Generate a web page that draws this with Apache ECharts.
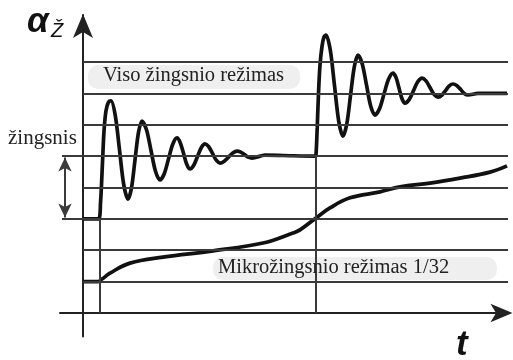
<!DOCTYPE html>
<html><head><meta charset="utf-8">
<script src="https://cdn.jsdelivr.net/npm/echarts@6/dist/echarts.min.js"></script>
<style>html,body{margin:0;padding:0;background:#fff}#c{width:513px;height:360px}</style>
</head><body><div id="c"></div>
<script>
// horizontal reference levels (in step units)
const gridLevels = [1, 2, 3, 4, 5, 6, 7, 8];
const extendedLevels = [3, 5];
// step instants and the level reached before each step
const stepTimes = [1.7, 23.3];
const stepBaseLevels = [3, 5];
// full-step response [t, angle]
const fullStepCurve = [
  [0,3],[1.55,3],[1.75,3.5],[1.95,4.8],[2.1,5.8],[2.3,6.45],[2.55,6.72],[2.8,6.76],
  [3.225,6.3],[3.65,5.2],[4.075,4.09],[4.5,3.63],
  [4.85,3.99],[5.2,4.88],[5.55,5.76],[5.9,6.12],
  [6.35,5.84],[6.8,5.18],[7.25,4.52],[7.7,4.24],
  [8.125,4.44],[8.55,4.91],[8.975,5.38],[9.4,5.58],
  [9.725,5.43],[10.05,5.09],[10.375,4.74],[10.7,4.59],
  [11.075,4.71],[11.45,4.99],[11.825,5.27],[12.2,5.39],
  [12.575,5.3],[12.95,5.09],[13.325,4.87],[13.7,4.78],
  [14.125,4.84],[14.55,4.97],[14.975,5.1],[15.4,5.16],
  [15.775,5.13],[16.15,5.05],[16.525,4.97],[16.9,4.94],
  [18.2,5.03],[20,5.02],[23.2,5],
  [23.3,5.05],[23.42,5.9],[23.55,7.0],[23.7,7.9],[23.9,8.5],[24.1,8.8],[24.3,8.86],
  [24.725,8.39],[25.15,7.25],[25.575,6.11],[26,5.64],
  [26.375,6.02],[26.75,6.93],[27.125,7.84],[27.5,8.22],
  [27.925,7.94],[28.35,7.27],[28.775,6.59],[29.2,6.31],
  [29.65,6.51],[30.1,6.98],[30.55,7.45],[31,7.65],
  [31.3,7.51],[31.6,7.17],[31.9,6.83],[32.2,6.69],
  [32.625,6.81],[33.05,7.09],[33.475,7.37],[33.9,7.49],
  [34.3,7.4],[34.7,7.19],[35.1,6.97],[35.5,6.88],
  [35.875,6.94],[36.25,7.09],[36.625,7.24],[37,7.3],
  [37.375,7.25],[37.75,7.13],[38.125,7.0],[38.5,6.95],
  [39.5,7.0],[42.4,7.0]
];
// 1/32 microstep response [t, angle]
const microStepCurve = [
  [0,1],[1.5,1],[1.9,1.08],[2.7,1.27],[4.7,1.59],[8,1.78],[13,1.98],[18,2.23],[21,2.55],
  [21.7,2.65],[23.3,3.03],[24.7,3.35],[26.7,3.67],[29.7,3.86],[31.7,4.02],[34.7,4.14],
  [37.7,4.3],[40.7,4.49],[42.4,4.69]
];
// step-size marker: from level to level
const stepMarker = [3.04, 4.96];
const labelFull = 'Viso žingsnio režimas';
const labelMicro = 'Mikrožingsnio režimas 1/32';
const labelStep = 'žingsnis';

const X_MIN = -2.3, X_MAX = 42.6, LINE_END = 42.5, MARK_X = -1.8, EXT_START = -2.1;

const chart = echarts.init(document.getElementById('c'), null, {renderer: 'canvas'});

const gridLineData = gridLevels.map(l => [
  {coord: [extendedLevels.includes(l) ? EXT_START : 0, l]},
  {coord: [LINE_END, l]}
]);
const vLineData = stepTimes.map((t, i) => [
  {coord: [t, 0]}, {coord: [t, stepBaseLevels[i]]}
]);

const option = {
  animation: false,
  grid: {left: 60, right: 4, top: 15, bottom: 23.5, containLabel: false},
  xAxis: {
    type: 'value', min: X_MIN, max: X_MAX,
    axisLine: {show: true, onZero: true, symbol: ['none', 'arrow'], symbolSize: [14, 22], symbolOffset: [0, 3.5],
      lineStyle: {color: '#222', width: 2}},
    axisTick: {show: false}, axisLabel: {show: false}, splitLine: {show: false}
  },
  yAxis: {
    type: 'value', min: -0.75, max: 9.5,
    axisLine: {show: true, onZero: true, symbol: ['none', 'arrow'], symbolSize: [15, 24], symbolOffset: [0, 1],
      lineStyle: {color: '#222', width: 2}},
    axisTick: {show: false}, axisLabel: {show: false}, splitLine: {show: false}
  },
  graphic: [
    {type: 'rect', left: 88, top: 65, shape: {width: 212, height: 24, r: 10}, style: {fill: '#efefef'}, z: 0},
    {type: 'rect', left: 213, top: 257, shape: {width: 284, height: 23, r: 10}, style: {fill: '#efefef'}, z: 0},
    {type: 'text', x: 103, y: 76, z: 10, style: {text: labelFull, font: '20.5px "Liberation Serif"', fill: '#222', verticalAlign: 'middle'}},
    {type: 'text', x: 218, y: 268, z: 10, style: {text: labelMicro, font: '20.5px "Liberation Serif"', fill: '#222', verticalAlign: 'middle'}},
    {type: 'text', x: 8, y: 138, z: 10, style: {text: labelStep, font: '21px "Liberation Serif"', fill: '#222', verticalAlign: 'middle'}},
    {type: 'text', x: 27, y: 22, z: 10, style: {text: 'α', font: 'italic bold 35px "Liberation Sans"', fill: '#111', verticalAlign: 'middle'}},
    {type: 'text', x: 51, y: 31.5, z: 10, style: {text: 'Ž', font: 'italic 20px "Liberation Sans"', fill: '#111', verticalAlign: 'middle'}},
    {type: 'text', x: 456, y: 345, z: 10, style: {text: 't', font: 'italic bold 35px "Liberation Sans"', fill: '#111', verticalAlign: 'middle'}}
  ],
  series: [
    {
      type: 'line', data: [], z: 1, silent: true,
      markLine: {
        silent: true, symbol: 'none', label: {show: false}, animation: false,
        lineStyle: {color: '#3a3a3a', width: 2, type: 'solid'},
        emphasis: {disabled: true},
        data: gridLineData.concat(vLineData).concat([[
          {coord: [MARK_X, stepMarker[0]], symbol: 'arrow', symbolSize: [10, 14]},
          {coord: [MARK_X, stepMarker[1]], symbol: 'arrow', symbolSize: [10, 14]}
        ]])
      }
    },
    {
      type: 'line', data: fullStepCurve, smooth: 0.3, showSymbol: false, symbol: 'none', z: 3, clip: false,
      lineStyle: {color: '#111', width: 3.7}
    },
    {
      type: 'line', data: microStepCurve, smooth: 0.4, showSymbol: false, symbol: 'none', z: 3, clip: false,
      lineStyle: {color: '#111', width: 3.7}
    }
  ]
};
chart.setOption(option);
</script>
</body></html>
